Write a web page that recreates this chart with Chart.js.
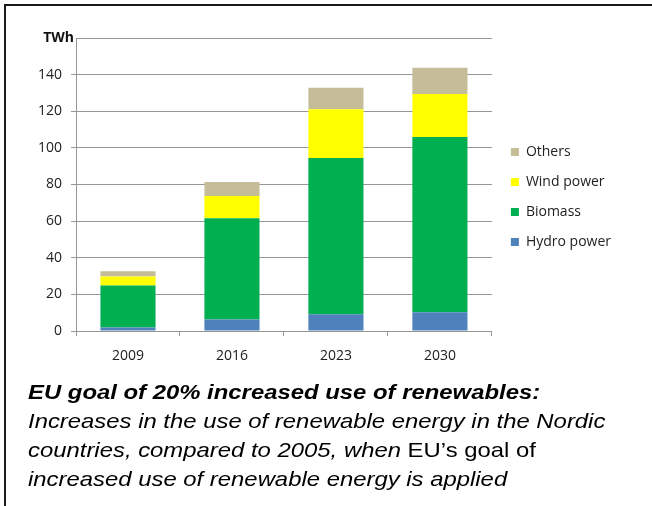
<!DOCTYPE html>
<html>
<head>
<meta charset="utf-8">
<script src="https://cdn.jsdelivr.net/npm/chart.js@4.4.1/dist/chart.umd.min.js"></script>
<style>
  html, body { margin: 0; padding: 0; background: #fff; }
  body { width: 652px; height: 506px; position: relative; overflow: hidden; }
  #frame { position: absolute; left: 4px; top: 4px; width: 700px; height: 560px; border: 2px solid #1a1a1a; box-sizing: border-box; }
  #chartBox { position: absolute; left: 0; top: 0; width: 652px; height: 380px; }
  #caption { position: absolute; left: 28px; top: 377px; font-family: "Liberation Sans", Arial, sans-serif; font-size: 21px; line-height: 29px; color: #000; white-space: nowrap; transform: scaleX(1.137); transform-origin: 0 0; }
  #caption .head { font-weight: bold; font-style: italic; }
  #caption i { font-style: italic; }
</style>
</head>
<body>
<div id="frame"></div>
<div id="chartBox"><canvas id="chart"></canvas></div>
<div id="caption">
  <div class="head">EU goal of 20% increased use of renewables:</div>
  <div><i>Increases in the use of renewable energy in the Nordic</i></div>
  <div><i>countries, compared to 2005, when</i> EU’s goal of</div>
  <div><i>increased use of renewable energy is applied</i></div>
</div>
<script>
// Renewable energy increase in the Nordic countries, TWh
const years = ['2009', '2016', '2023', '2030'];
const hydroPower = [1.9, 6.3, 9.2, 10.3];
const biomass = [23.0, 55.3, 85.3, 95.7];
const windPower = [4.9, 12.1, 26.6, 23.4];
const others = [2.8, 7.6, 11.7, 14.4];
const yTicks = [0, 20, 40, 60, 80, 100, 120, 140, 160];
const unitLabel = 'TWh';

const baseFont = { family: "'Open Sans', 'Noto Sans', sans-serif", size: 14 };
const gridGrey = '#979797';
const yTop = yTicks[yTicks.length - 1];

// legend column: a little gap after the plot, centred a bit below the plot middle
const legendPlace = {
  id: 'legendPlace',
  afterLayout(chart) {
    const lg = chart.legend;
    if (!lg) return;
    lg.left += 3;
    lg.right += 3;
    lg.bottom = chart.chartArea.bottom + 25;
  }
};

// unit caption sitting on the top grid line, next to the value axis
const unitTitle = {
  id: 'unitTitle',
  afterDraw(chart) {
    const y = chart.scales.y;
    const ctx = chart.ctx;
    ctx.save();
    ctx.font = `bold ${baseFont.size}px ${baseFont.family}`;
    ctx.fillStyle = '#111';
    ctx.textAlign = 'right';
    ctx.textBaseline = 'middle';
    ctx.fillText(unitLabel, chart.chartArea.left - 2, y.getPixelForValue(yTop));
    ctx.restore();
  }
};

new Chart(document.getElementById('chart'), {
  type: 'bar',
  data: {
    labels: years,
    datasets: [
      { label: 'Hydro power', data: hydroPower, backgroundColor: '#4F81BD' },
      { label: 'Biomass', data: biomass, backgroundColor: '#00B050' },
      { label: 'Wind power', data: windPower, backgroundColor: '#FFFF00' },
      { label: 'Others', data: others, backgroundColor: '#C4BD97' }
    ]
  },
  plugins: [legendPlace, unitTitle],
  options: {
    responsive: true,
    maintainAspectRatio: false,
    animation: false,
    datasets: { bar: { barPercentage: 0.53, categoryPercentage: 1 } },
    layout: { padding: { left: 0, top: 38, right: 34, bottom: 4 } },
    plugins: {
      tooltip: { enabled: false },
      legend: {
        position: 'right',
        reverse: true,
        labels: {
          color: '#222',
          font: baseFont,
          boxWidth: 8,
          boxHeight: 8,
          padding: 16
        }
      }
    },
    scales: {
      x: {
        stacked: true,
        grid: { offset: true, drawOnChartArea: false, drawTicks: true, tickLength: 5, color: gridGrey },
        border: { display: true, color: gridGrey },
        ticks: { color: '#222', font: baseFont, padding: 12 },
        afterFit: s => { s.height = 45; }
      },
      y: {
        stacked: true,
        min: 0,
        max: yTop,
        afterBuildTicks: s => { s.ticks = yTicks.map(v => ({ value: v })); },
        grid: {
          color: gridGrey,
          tickLength: 5,
          tickColor: ctx => (ctx.tick && ctx.tick.value === yTop) ? 'rgba(0,0,0,0)' : gridGrey
        },
        border: { display: true, color: gridGrey },
        ticks: {
          color: '#222',
          padding: 9,
          font: baseFont,
          callback: v => v === yTop ? '' : v
        },
        afterFit: s => { s.width = 76; }
      }
    }
  }
});
</script>
</body>
</html>
